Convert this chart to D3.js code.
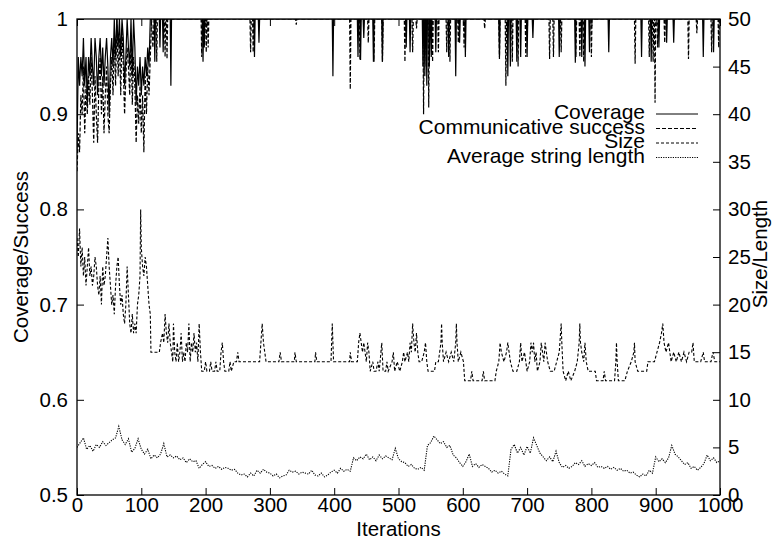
<!DOCTYPE html>
<html><head><meta charset="utf-8">
<script src="https://cdn.jsdelivr.net/npm/d3@7"></script>
<style>
body{margin:0;background:#fff}
text{font-family:"Liberation Sans",Arial,Helvetica,sans-serif;fill:#000}
</style>
</head><body>
<svg id="chart" width="772" height="539"></svg>
<script>
// ---------- data ----------
const xTickValues = [0,100,200,300,400,500,600,700,800,900,1000];
const leftTickValues = [0.5,0.6,0.7,0.8,0.9,1];
const leftTickLabels = ["0.5","0.6","0.7","0.8","0.9","1"];
const rightTickValues = [0,5,10,15,20,25,30,35,40,45,50];
const seriesNames = ["Coverage","Communicative success","Size","Average string length"];

// Coverage, every 2 iterations from 0 to 120
const coverageEarly = [0.86,0.96,0.93,0.96,0.94,0.98,0.93,0.96,0.91,0.96,0.94,0.98,0.95,0.93,0.98,0.96,0.92,0.96,0.98,0.94,0.97,0.93,0.96,0.98,0.95,0.90,0.96,0.98,0.95,1.0,0.96,1.0,0.97,1.0,0.96,1.0,0.98,0.93,0.96,1.0,0.97,0.95,1.0,0.94,1.0,0.97,0.91,0.95,0.93,0.96,0.92,0.95,0.93,0.96,0.94,0.97,0.95,1.0,1.0,1.0,1.0];
// Coverage after iteration 120: value 1 except these dips [iteration, value]
const coverageDips = [[121,0.955],[129,0.97],[134,0.965],[146,0.93],[196,0.955],[198,0.97],[276,0.96],[283,0.975],[398,0.94],[437,0.96],[441,0.957],[446,0.98],[461,0.955],[475,0.955],[512,0.97],[518,0.965],[538,0.95],[541,0.94],[544,0.93],[548,0.95],[551,0.96],[558,0.965],[578,0.96],[589,0.94],[595,0.975],[604,0.96],[657,0.96],[670,0.94],[674,0.95],[684,0.955],[690,0.96],[700,0.96],[709,0.98],[750,0.96],[775,0.954],[785,0.96],[790,0.95],[797,0.965],[827,0.965],[878,0.96],[893,0.955],[905,0.97],[917,0.975],[928,0.975],[974,0.96],[990,0.965]];

// Communicative success, every 2 iterations from 0 to 120
const successEarly = [0.84,0.88,0.86,0.92,0.90,0.95,0.88,0.93,0.90,0.94,0.91,0.96,0.92,0.87,0.94,0.90,0.87,0.93,0.96,0.90,0.94,0.88,0.92,0.95,0.90,0.88,0.93,0.96,0.92,0.98,0.93,1.0,0.94,0.98,0.92,0.99,0.95,0.90,0.94,0.97,0.95,0.92,0.98,0.91,0.96,0.93,0.87,0.92,0.89,0.93,0.88,0.92,0.86,0.94,0.90,0.95,0.92,0.96,1.0,0.97,1.0];
const successDips = [[124,0.955],[137,0.96],[140,0.958],[194,0.96],[201,0.965],[204,0.97],[270,0.965],[274,0.965],[341,0.994],[425,0.926],[440,0.957],[453,0.975],[462,0.955],[475,0.955],[510,0.955],[522,0.965],[528,0.99],[539,0.90],[543,0.95],[547,0.907],[553,0.955],[562,0.965],[575,0.965],[580,0.955],[593,0.975],[602,0.97],[634,0.99],[657,0.958],[667,0.93],[677,0.955],[686,0.95],[698,0.96],[735,0.958],[741,0.96],[753,0.965],[776,0.96],[782,0.96],[788,0.955],[800,0.96],[868,0.953],[890,0.96],[896,0.955],[899,0.912],[903,0.97],[914,0.975],[951,0.958],[964,0.985],[987,0.965],[998,0.97]];

// Size [iteration, value]
const sizePoints = [[0,27],[2,25],[4,28],[6,24],[8,26],[10,23],[12,25],[14,22],[16,24],[18,26],[20,23],[22,24],[24,22],[26,23],[28,25],[30,24],[32,22],[34,21],[36,23],[38,20],[40,24],[42,22],[44,23],[46,25],[48,27],[50,24],[52,22],[54,20],[56,21],[58,19],[60,22],[62,24],[64,25],[66,22],[68,20],[70,21],[72,19],[74,18],[76,20],[78,24],[80,21],[82,18],[84,17],[86,19],[88,17],[90,18],[92,17],[94,20],[96,21],[98,23],[99,30],[100,26],[102,24],[104,23],[106,25],[108,24],[110,22],[112,20],[114,19],[115,15],
[128,15],[130,16],[133,17],[135,16],[137,19],[139,17],[141,16],[143,18],[145,16],[147,15],[149,14],[150,18],[152,15],[154,14],[156,16],[158,14],[160,15],[162,17],[164,14],[166,15],[168,14],[170,16],[172,15],[174,18],[176,14],[178,16],[180,15],[182,17],[184,15],[186,16],[188,14],[190,18],[192,15],[194,13],[198,13],[200,14],[202,13],[206,13],[208,14],[210,13],[214,13],[216,14],[218,13],[222,13],[224,15],[226,16],[228,14],[230,13],[236,13],[238,14],[240,13],[244,14],[248,14],[250,15],[252,14],[284,14],[286,16],[288,18],[290,16],[292,15],[294,14],[314,14],[316,15],[318,14],[338,14],[339,15],[341,14],[370,14],[371,15],[373,14],[395,14],[396,16],[397,18],[398,16],[399,14],[424,14],[425,15],[427,14],[436,14],[438,16],[440,17],[442,16],[444,15],[446,16],[448,15],[450,14],[452,16],[454,15],[456,13],[460,14],[462,13],[465,13],[468,14],[470,13],[474,16],[476,13],[480,13],[482,14],[484,13],[490,14],[492,15],[494,13],[498,14],[502,13],[506,14],[508,15],[510,14],[514,15],[516,14],[518,16],[520,15],[522,18],[524,16],[526,15],[528,17],[530,15],[532,14],[536,14],[540,15],[542,16],[544,14],[546,13],[556,13],[558,14],[562,14],[566,16],[567,18],[568,16],[570,14],[574,15],[578,14],[582,15],[586,14],[589,16],[590,18],[591,16],[593,14],[597,15],[601,14],[603,12],[612,12],[614,13],[616,12],[630,12],[632,13],[634,12],[650,12],[652,13],[656,14],[658,16],[660,15],[664,14],[668,15],[670,16],[672,15],[674,14],[678,13],[684,13],[688,14],[690,16],[692,14],[696,15],[700,13],[704,14],[706,16],[708,15],[710,16],[712,14],[714,15],[716,13],[720,14],[722,16],[724,15],[726,14],[728,16],[730,15],[732,14],[736,13],[742,13],[746,14],[750,15],[752,17],[753,18],[754,16],[756,13],[760,12],[764,13],[768,12],[774,13],[778,14],[781,16],[782,18],[783,16],[785,15],[788,14],[790,16],[792,14],[795,13],[806,13],[808,12],[818,12],[820,13],[822,12],[836,12],[838,14],[839,16],[840,14],[842,12],[852,12],[856,13],[862,14],[866,15],[867,16],[868,14],[872,13],[886,13],[888,14],[898,14],[902,15],[906,16],[909,17],[911,18],[913,16],[916,15],[920,16],[924,14],[928,15],[932,14],[936,15],[940,14],[944,15],[948,14],[952,15],[956,15],[958,16],[960,14],[970,14],[974,15],[976,14],[986,14],[989,15],[992,14],[1000,14]];

// Average string length, every 5 iterations from 0 to 1000
const lengthValues = [5.0,5.5,6.0,4.8,5.2,4.6,5.3,5.0,5.6,5.2,5.5,5.8,6.0,7.2,5.8,5.3,5.9,4.5,4.9,5.9,4.8,4.3,4.8,3.8,4.2,3.9,4.3,5.4,4.0,4.2,3.9,4.1,3.7,3.9,3.4,3.8,3.5,3.6,2.8,3.2,3.5,3.0,3.1,2.8,3.0,2.7,2.9,2.8,2.6,2.7,2.3,2.1,2.2,1.9,2.3,2.0,2.6,2.3,2.7,2.4,2.3,2.0,2.2,1.8,2.0,2.1,2.6,2.4,2.5,2.2,2.4,2.3,2.2,2.6,2.1,2.0,2.3,1.9,2.1,2.4,2.6,2.3,2.8,2.5,2.7,2.5,3.9,3.6,4.0,3.8,4.3,3.7,4.0,3.6,4.2,3.8,4.1,3.9,3.7,4.9,3.8,3.5,3.4,3.0,3.2,2.8,2.7,2.9,2.6,5.2,5.5,6.2,5.8,5.4,5.6,5.0,5.2,4.2,3.9,3.4,3.0,3.5,4.3,3.0,3.3,2.9,3.2,3.0,2.8,2.4,2.6,2.3,2.5,2.2,2.0,4.8,5.3,4.4,5.0,4.2,5.1,4.4,6.0,5.2,4.4,4.0,3.6,4.0,3.5,4.6,3.4,2.9,3.1,2.8,3.0,3.4,3.2,3.6,3.0,3.3,3.1,3.4,2.9,3.0,2.8,3.0,2.7,2.9,2.6,2.8,2.5,2.6,2.3,2.4,2.1,1.9,2.2,2.0,2.6,2.3,4.0,3.5,3.8,3.4,3.9,5.2,4.3,4.0,3.6,3.2,3.4,2.8,3.0,2.6,2.9,3.3,4.2,3.6,3.9,3.4,3.6];
const lengthStep = 5;

// ---------- layout ----------
const M = {left: 77, right: 720, top: 19, bottom: 495};
const svg = d3.select("#chart");

const x = d3.scaleLinear().domain([0, 1000]).range([M.left, M.right]);
const yL = d3.scaleLinear().domain([0.5, 1]).range([M.bottom, M.top]);
const yR = d3.scaleLinear().domain([0, 50]).range([M.bottom, M.top]);

function buildWithDips(early, step, dips, end) {
  const pts = early.map((v, i) => [i * step, v]);
  let last = (early.length - 1) * step;
  dips.forEach(([it, v]) => {
    if (it - 1 > last) pts.push([it - 1, 1]);
    pts.push([it, v]);
    pts.push([it + 1, 1]);
    last = it + 1;
  });
  if (last < end) pts.push([end, 1]);
  return pts;
}
const coverage = buildWithDips(coverageEarly, 2, coverageDips, 1000);
const success = buildWithDips(successEarly, 2, successDips, 1000);
const lengthPts = lengthValues.map((v, i) => [i * lengthStep, v]);

svg.append("defs").append("clipPath").attr("id", "clip")
  .append("rect").attr("x", M.left).attr("y", M.top)
  .attr("width", M.right - M.left).attr("height", M.bottom - M.top);

const styles = [
  {dash: null, width: 1.2, color: "#000"},
  {dash: "4,2", width: 1.2, color: "#000"},
  {dash: "3,2", width: 1.1, color: "#000"},
  {dash: "1.2,1.2", width: 1.1, color: "#000"}
];

const plot = svg.append("g").attr("clip-path", "url(#clip)");
const lineL = d3.line().x(d => x(d[0])).y(d => yL(d[1]));
const lineR = d3.line().x(d => x(d[0])).y(d => yR(d[1]));
const seriesData = [[coverage, lineL], [success, lineL], [sizePoints, lineR], [lengthPts, lineR]];
seriesData.forEach(([data, gen], i) => {
  plot.append("path").attr("d", gen(data))
    .attr("fill", "none").attr("stroke", styles[i].color)
    .attr("stroke-width", styles[i].width)
    .attr("stroke-dasharray", styles[i].dash);
});

// ---------- axes ----------
const fs = "20.5px";
const axB = svg.append("g").attr("transform", `translate(0,${M.bottom})`)
  .call(d3.axisBottom(x).tickValues(xTickValues).tickSize(-7).tickPadding(2).tickFormat(d3.format("d")));
const axT = svg.append("g").attr("transform", `translate(0,${M.top})`)
  .call(d3.axisTop(x).tickValues(xTickValues).tickSize(-7).tickFormat(""));
const axL = svg.append("g").attr("transform", `translate(${M.left},0)`)
  .call(d3.axisLeft(yL).tickValues(leftTickValues).tickSize(-7).tickPadding(9)
    .tickFormat((d, i) => leftTickLabels[i]));
const axR = svg.append("g").attr("transform", `translate(${M.right},0)`)
  .call(d3.axisRight(yR).tickValues(rightTickValues).tickSize(-7).tickPadding(8).tickFormat(d3.format("d")));
[axB, axT, axL, axR].forEach(g => {
  g.select(".domain").remove();
  g.selectAll("line").attr("stroke", "#000").attr("stroke-width", 1);
  g.selectAll("text").attr("font-size", fs).attr("font-family", null);
});

// frame
svg.append("rect").attr("x", M.left).attr("y", M.top)
  .attr("width", M.right - M.left).attr("height", M.bottom - M.top)
  .attr("fill", "none").attr("stroke", "#000").attr("stroke-width", 1.3);

// axis titles
svg.append("text").attr("x", (M.left + M.right) / 2).attr("y", 536)
  .attr("text-anchor", "middle").attr("font-size", fs).text("Iterations");
svg.append("text").attr("transform", `translate(28,257) rotate(-90)`)
  .attr("text-anchor", "middle").attr("font-size", fs).text("Coverage/Success");
svg.append("text").attr("transform", `translate(767,254) rotate(-90)`)
  .attr("text-anchor", "middle").attr("font-size", fs).text("Size/Length");

// legend
const legend = svg.append("g");
seriesNames.forEach((name, i) => {
  const yy = 114 + i * 14.5;
  legend.append("text").attr("x", 645).attr("y", yy + 5)
    .attr("text-anchor", "end").attr("font-size", "21px").text(name);
  legend.append("line").attr("x1", 656).attr("x2", 698)
    .attr("y1", yy).attr("y2", yy)
    .attr("stroke", styles[i].color).attr("stroke-width", 1)
    .attr("stroke-dasharray", styles[i].dash);
});
</script>
</body></html>
